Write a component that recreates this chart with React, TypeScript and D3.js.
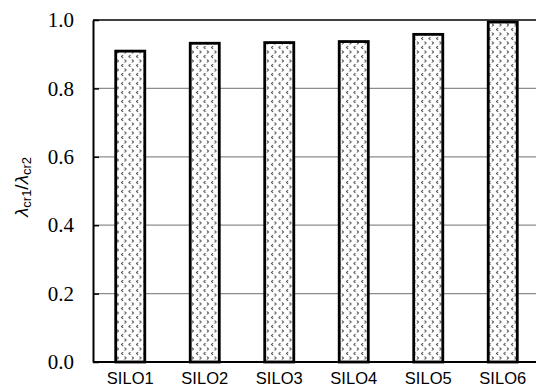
import React, { useEffect, useRef } from 'react'
import * as d3 from 'd3'

const silos = ['SILO1', 'SILO2', 'SILO3', 'SILO4', 'SILO5', 'SILO6']
const ratios = [0.909, 0.932, 0.934, 0.937, 0.958, 0.994]
const yTicks = [0, 0.2, 0.4, 0.6, 0.8, 1.0]

const W = 536
const H = 388
const left = 93
const right = 540
const top = 20
const bottom = 362

export default function App() {
  const ref = useRef<SVGSVGElement>(null)

  useEffect(() => {
    const svg = d3.select(ref.current)
    svg.selectAll('*').remove()

    const x = d3.scaleBand().domain(silos).range([left, right]).paddingInner(0.61).paddingOuter(0.305)
    const y = d3.scaleLinear().domain([0, 1]).range([bottom, top])

    const defs = svg.append('defs')
    const pat = defs.append('pattern')
      .attr('id', 'chev')
      .attr('patternUnits', 'userSpaceOnUse')
      .attr('width', 7.5)
      .attr('height', 9)
    pat.append('rect').attr('width', 7.5).attr('height', 9).attr('fill', '#fff')
    pat.append('path')
      .attr('d', 'M3,1 L1.5,2.5 L3,4 M4.5,5.5 L6,7 L4.5,8.5')
      .attr('fill', 'none')
      .attr('stroke', '#333')
      .attr('stroke-width', 1)

    // gridlines
    svg.append('g')
      .selectAll('line')
      .data(yTicks.filter(t => t > 0 && t < 1))
      .enter()
      .append('line')
      .attr('x1', left)
      .attr('x2', right)
      .attr('y1', d => y(d))
      .attr('y2', d => y(d))
      .attr('stroke', '#8c8c8c')
      .attr('stroke-width', 1.2)

    // bars
    svg.append('g')
      .selectAll('rect')
      .data(ratios)
      .enter()
      .append('rect')
      .attr('x', (d, i) => x(silos[i])!)
      .attr('y', d => y(d))
      .attr('width', x.bandwidth())
      .attr('height', d => bottom - y(d))
      .attr('fill', 'url(#chev)')
      .attr('stroke', '#000')
      .attr('stroke-width', 2.8)

    // frame
    svg.append('line').attr('x1', left).attr('x2', right).attr('y1', top).attr('y2', top)
      .attr('stroke', '#000').attr('stroke-width', 1.6)
    svg.append('line').attr('x1', left).attr('x2', right).attr('y1', bottom).attr('y2', bottom)
      .attr('stroke', '#000').attr('stroke-width', 2)

    // y axis
    const yAxis = svg.append('g')
      .attr('transform', `translate(${left},0)`)
      .call(d3.axisLeft(y).tickValues(yTicks).tickFormat(() => '').tickSizeInner(-6).tickSizeOuter(0))
    yAxis.select('.domain').attr('stroke', '#000').attr('stroke-width', 2)
    yAxis.selectAll('.tick line').attr('stroke', '#000').attr('stroke-width', 1.5)

    svg.append('g')
      .selectAll('text')
      .data(yTicks)
      .enter()
      .append('text')
      .attr('x', 74)
      .attr('y', d => y(d))
      .attr('dy', '0.34em')
      .attr('text-anchor', 'end')
      .style('font-family', '"Liberation Serif", "DejaVu Serif", serif')
      .style('font-size', '21px')
      .text(d => d3.format('.1f')(d))

    // x labels
    svg.append('g')
      .selectAll('text')
      .data(silos)
      .enter()
      .append('text')
      .attr('x', d => x(d)! + x.bandwidth() / 2)
      .attr('y', 384)
      .attr('text-anchor', 'middle')
      .style('font-family', '"Liberation Sans", Arial, sans-serif')
      .style('font-size', '16.5px')
      .text(d => d)

    // y label
    const lab = svg.append('text')
      .attr('transform', `translate(28,${(top + bottom) / 2 - 4}) rotate(-90)`)
      .attr('text-anchor', 'middle')
      .style('font-family', '"Liberation Sans", Arial, sans-serif')
      .style('font-size', '19px')
    lab.append('tspan').attr('font-style', 'italic').text('λ')
    lab.append('tspan').style('font-size', '13px').attr('dy', 3).text('cr1')
    lab.append('tspan').attr('dy', -3).text('/')
    lab.append('tspan').attr('font-style', 'italic').text('λ')
    lab.append('tspan').style('font-size', '13px').attr('dy', 3).text('cr2')
  }, [])

  return (
    <svg ref={ref} width={W} height={H}
      style={{ position: 'fixed', left: 0, top: 0, background: '#fff' }} />
  )
}
